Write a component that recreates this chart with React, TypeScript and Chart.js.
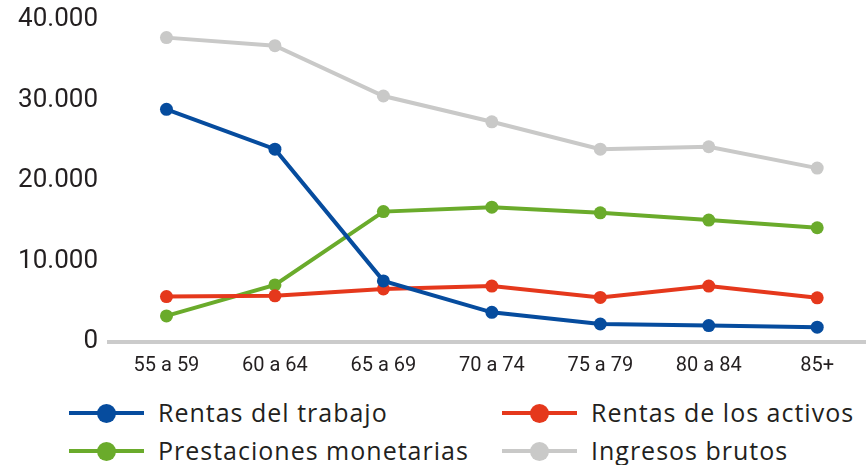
import React, { useEffect, useRef } from "react";
import { Chart, registerables } from "chart.js";

Chart.register(...registerables);

const categories = ["55 a 59", "60 a 64", "65 a 69", "70 a 74", "75 a 79", "80 a 84", "85+"];
const rentasTrabajo = [28850, 23900, 7550, 3650, 2200, 2000, 1800];
const rentasActivos = [5600, 5700, 6550, 6900, 5500, 6900, 5450];
const prestaciones = [3200, 7050, 16150, 16700, 16000, 15100, 14150];
const ingresosBrutos = [37750, 36750, 30500, 27300, 23900, 24200, 21550];
const yTicks = [0, 10000, 20000, 30000, 40000];

const seriesNames = ["Rentas del trabajo", "Rentas de los activos", "Prestaciones monetarias", "Ingresos brutos"];
const seriesColors = ["#064c9e", "#e5381c", "#6aab2b", "#c9c9c8"];

const FONT = "Roboto, 'Open Sans', sans-serif";
const LEGEND_FONT = "'Open Sans', Roboto, sans-serif";
const TEXT = "#231f20";

function fmt(v: number): string {
  return String(Math.round(v)).replace(/\B(?=(\d{3})+(?!\d))/g, ".");
}

export default function App() {
  const ref = useRef<HTMLCanvasElement | null>(null);

  useEffect(() => {
    if (!ref.current) return;
    const seriesValues = [rentasTrabajo, rentasActivos, prestaciones, ingresosBrutos];
    const chart = new Chart(ref.current, {
      type: "line",
      data: {
        datasets: seriesValues.map((vals, k) => ({
          label: seriesNames[k],
          data: vals.map((v, i) => ({ x: i, y: v })),
          borderColor: seriesColors[k],
          backgroundColor: seriesColors[k],
          pointBackgroundColor: seriesColors[k],
          pointBorderWidth: 0,
          pointRadius: 6.5,
          borderWidth: 4,
          tension: 0,
          clip: false as any,
        })),
      },
      options: {
        animation: false,
        responsive: false,
        maintainAspectRatio: false,
        layout: { autoPadding: false, padding: { top: 19.5, left: 0, right: 0, bottom: 0 } },
        plugins: { legend: { display: false }, tooltip: { enabled: false } },
        scales: {
          x: {
            type: "linear",
            min: -0.53,
            max: 6.45,
            afterBuildTicks: (s: any) => {
              s.ticks = categories.map((_, i) => ({ value: i }));
            },
            afterFit: (s: any) => {
              s.height = 38.3;
            },
            ticks: {
              callback: (v: any) => categories[v] ?? "",
              font: { family: FONT, size: 20 },
              color: TEXT,
              padding: 12,
              maxRotation: 0,
              autoSkip: false,
            },
            grid: { display: false, drawTicks: false },
            border: { display: true, color: "#cbcbcb", width: 4 },
          },
          y: {
            type: "linear",
            min: 0,
            max: 40000,
            afterBuildTicks: (s: any) => {
              s.ticks = yTicks.map((v) => ({ value: v }));
            },
            afterFit: (s: any) => {
              s.width = 109;
            },
            ticks: {
              callback: (v: any) => fmt(Number(v)),
              font: { family: FONT, size: 26, lineHeight: 0.4 },
              color: TEXT,
              padding: 11,
            },
            grid: { display: false, drawTicks: false },
            border: { display: false },
          },
        },
      },
    });
    return () => chart.destroy();
  }, []);

  const legendItems = [
    { k: 0, lineX: 69, y: 413 },
    { k: 1, lineX: 502, y: 413 },
    { k: 2, lineX: 69, y: 451 },
    { k: 3, lineX: 502, y: 451 },
  ];

  return (
    <div style={{ position: "absolute", left: 0, top: 0, width: 866, height: 465, background: "#fff", overflow: "hidden" }}>
      <canvas ref={ref} width={866} height={380} style={{ display: "block", width: 866, height: 380 }} />
      {legendItems.map((it) => (
        <div key={it.k}>
          <div
            style={{
              position: "absolute",
              left: it.lineX,
              top: it.y - 2,
              width: 75,
              height: 4,
              background: seriesColors[it.k],
            }}
          />
          <div
            style={{
              position: "absolute",
              left: it.lineX + 37.5 - 9.5,
              top: it.y - 9.5,
              width: 19,
              height: 19,
              borderRadius: "50%",
              background: seriesColors[it.k],
            }}
          />
          <div
            style={{
              position: "absolute",
              left: it.lineX + 89,
              top: it.y - 18,
              height: 34,
              lineHeight: "34px",
              fontFamily: LEGEND_FONT,
              fontSize: 25,
              letterSpacing: 1,
              color: TEXT,
              whiteSpace: "nowrap",
            }}
          >
            {seriesNames[it.k]}
          </div>
        </div>
      ))}
    </div>
  );
}
